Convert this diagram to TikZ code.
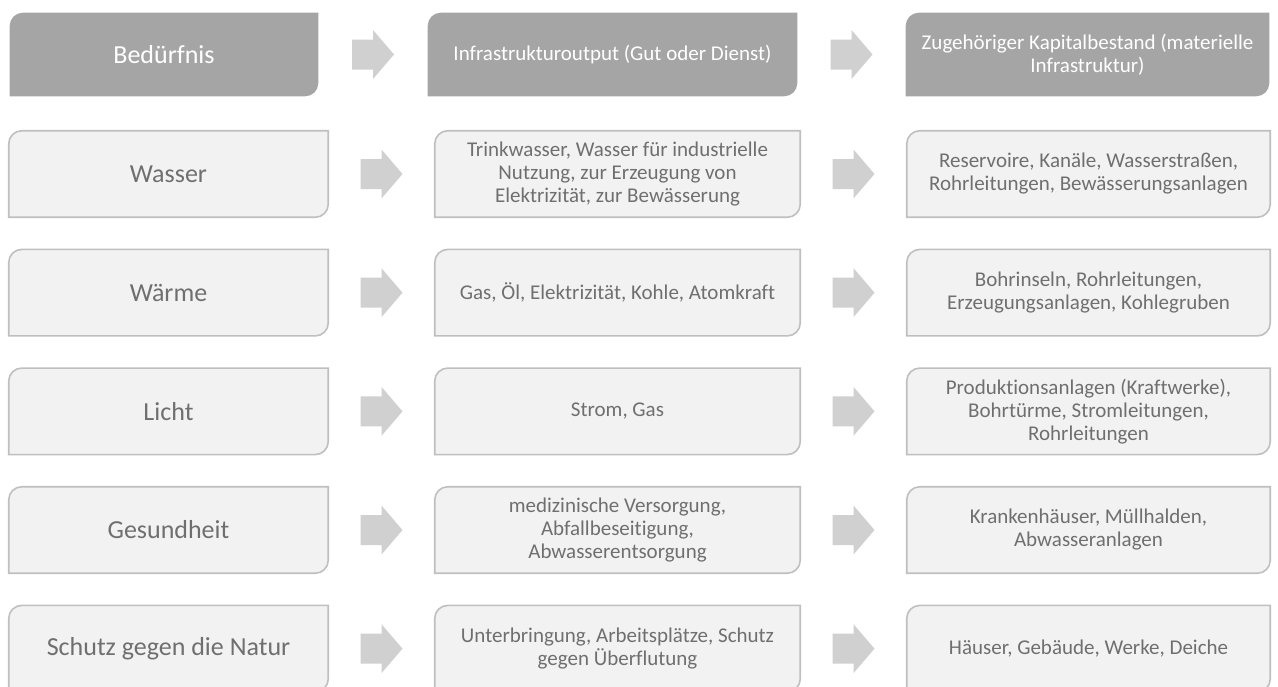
\documentclass[tikz,border=0pt]{standalone}
\usepackage{fontspec}
\setmainfont{Carlito}[Ligatures={NoCommon,NoContextual}]
\usepackage{tikz}
\usetikzlibrary{calc, backgrounds}
\definecolor{HeadGrey}{HTML}{A5A5A5}
\definecolor{ArrowGrey}{HTML}{D0D0D0}
\definecolor{CellFill}{HTML}{F2F2F2}
\definecolor{CellLine}{HTML}{BFBFBF}
\definecolor{TextGrey}{HTML}{6F6F6F}

\newcommand{\bigtxt}{\fontsize{19.5}{23.4}\selectfont}
\newcommand{\smalltxt}{\fontsize{15.75}{17.25}\selectfont}

% box with rounded top-left and bottom-right corners
\newcommand{\cellshape}[2]{%
  \path[#1] (#2.south west) -- ($(#2.north west)+(0,-9.75pt)$)
    arc[start angle=180, end angle=90, radius=9.75pt] -- (#2.north east)
    -- ($(#2.south east)+(0,9.75pt)$)
    arc[start angle=0, end angle=-90, radius=9.75pt] -- cycle;}
% block arrow halfway between two boxes
\newcommand{\flowarrow}[2]{%
  \fill[ArrowGrey] ($(#1.east)!0.5!(#2.west)$) +(-21,-15) -- +(0,-15) -- +(0,-24.5)
    -- +(21,0) -- +(0,24.5) -- +(0,15) -- +(-21,15) -- cycle;}

\begin{document}
\begin{tikzpicture}[x=0.75pt, y=0.75pt, node distance=89pt,
    every node/.style={inner sep=0pt, align=center, text=TextGrey},
    colA/.style={minimum width=239.25pt, minimum height=64.5pt, font=\bigtxt},
    colB/.style={minimum width=273.75pt, minimum height=64.5pt, font=\smalltxt},
    colC/.style={minimum width=272.25pt, minimum height=64.5pt, font=\smalltxt},
    headcell/.style={fill=HeadGrey},
    bodycell/.style={fill=CellFill, draw=CellLine, line width=1.2pt}]
  \useasboundingbox (0,0) rectangle (1278,-686);

  % header
  \node (hd1) at (164,-54.5) [minimum width=231pt, minimum height=62.25pt, font=\bigtxt, text=white] {Bedürfnis};
  \node (hd2) at (612.5,-54.5) [minimum width=276.75pt, minimum height=62.25pt, font=\smalltxt, text=white] {Infrastrukturoutput (Gut oder Dienst)};
  \node (hd3) at (1087.5,-54.5) [minimum width=272.25pt, minimum height=62.25pt, font=\smalltxt, text=white] {Zugehöriger Kapitalbestand (materielle\\Infrastruktur)};

  % rows
  \node (wa1) at (168.5,-174) [colA] {Wasser};
  \node (wa2) at (617.5,-174) [colB] {Trinkwasser, Wasser für industrielle\\Nutzung, zur Erzeugung von\\Elektrizität, zur Bewässerung};
  \node (wa3) at (1088.5,-174) [colC] {Reservoire, Kanäle, Wasserstraßen,\\Rohrleitungen, Bewässerungsanlagen};

  \node (wm1) [below of=wa1, colA] {Wärme};
  \node (wm2) [below of=wa2, colB] {Gas, Öl, Elektrizität, Kohle, Atomkraft};
  \node (wm3) [below of=wa3, colC] {Bohrinseln, Rohrleitungen,\\Erzeugungsanlagen, Kohlegruben};

  \node (li1) [below of=wm1, colA] {Licht};
  \node (li2) [below of=wm2, colB] {Strom, Gas};
  \node (li3) [below of=wm3, colC] {Produktionsanlagen (Kraftwerke),\\Bohrtürme, Stromleitungen,\\Rohrleitungen};

  \node (ge1) [below of=li1, colA] {Gesundheit};
  \node (ge2) [below of=li2, colB] {medizinische Versorgung,\\Abfallbeseitigung,\\Abwasserentsorgung};
  \node (ge3) [below of=li3, colC] {Krankenhäuser, Müllhalden,\\Abwasseranlagen};

  \node (sn1) [below of=ge1, colA] {Schutz gegen die Natur};
  \node (sn2) [below of=ge2, colB] {Unterbringung, Arbeitsplätze, Schutz\\gegen Überflutung};
  \node (sn3) [below of=ge3, colC] {Häuser, Gebäude, Werke, Deiche};

  \begin{scope}[on background layer]
    \foreach \n in {hd1,hd2,hd3} \cellshape{headcell}{\n};
    \foreach \n in {wa1,wa2,wa3,wm1,wm2,wm3,li1,li2,li3,ge1,ge2,ge3,sn1,sn2,sn3}
      \cellshape{bodycell}{\n};
    \foreach \r in {hd,wa,wm,li,ge,sn} {
      \flowarrow{\r1}{\r2}
      \flowarrow{\r2}{\r3}
    }
  \end{scope}
\end{tikzpicture}
\end{document}
